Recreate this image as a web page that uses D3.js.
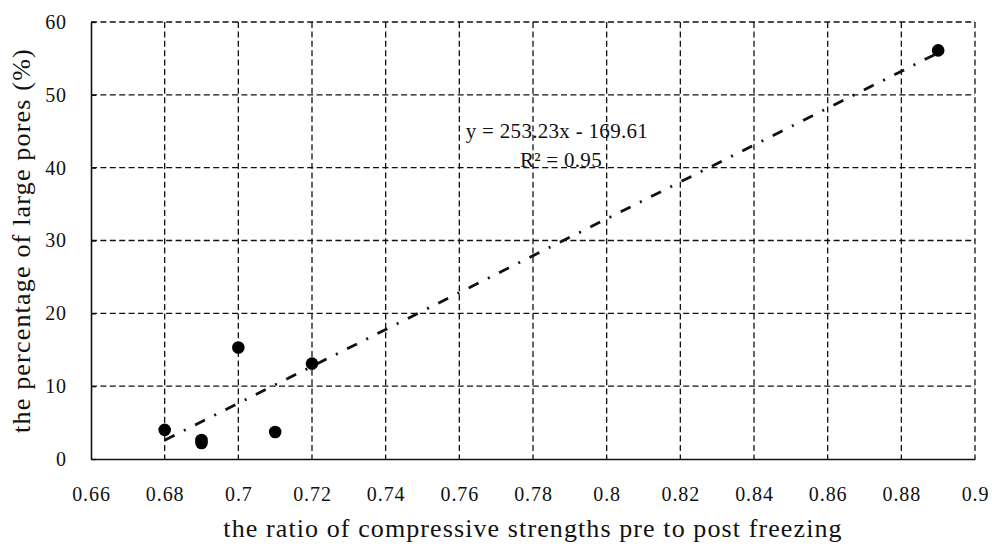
<!DOCTYPE html>
<html>
<head>
<meta charset="utf-8">
<script src="https://cdn.jsdelivr.net/npm/d3@7"></script>
<style>
    body { margin: 0; background: #fff; }
    text { font-family: 'Liberation Serif', 'DejaVu Serif', serif; fill: #111; }
</style>
</head>
<body>
<div class="chart-container"></div>
<script>
// data
const ratioValues = [0.68, 0.69, 0.69, 0.70, 0.71, 0.72, 0.89];
const poreValues = [4.0, 2.6, 2.2, 15.3, 3.7, 13.1, 56.1];
const xTicks = [0.66, 0.68, 0.7, 0.72, 0.74, 0.76, 0.78, 0.8, 0.82, 0.84, 0.86, 0.88, 0.9];
const yTicks = [0, 10, 20, 30, 40, 50, 60];
// trendline as printed in the chart
const trendSlope = 253.23;
const trendIntercept = -169.61;
const trendRange = [0.68, 0.89];

const points = ratioValues.map((x, i) => ({ x: x, y: poreValues[i] }));
const trendPoints = trendRange.map(x => ({ x: x, y: trendSlope * x + trendIntercept }));

const margin = { top: 22, right: 17, bottom: 87, left: 91 };
const width = 992 - margin.left - margin.right;
const height = 546 - margin.top - margin.bottom;

// scales
const xScale = d3.scaleLinear().domain([0.66, 0.9]).range([0, width]);
const yScale = d3.scaleLinear().domain([0, 60]).range([height, 0]);

const svg = d3.select('.chart-container')
    .append('svg')
    .attr('width', 992)
    .attr('height', 546)
    .append('g')
    .attr('transform', `translate(${margin.left}, ${margin.top})`);

// grid
const grid = svg.append('g').attr('class', 'grid')
    .style('stroke', '#111')
    .style('stroke-width', 1.3)
    .style('stroke-dasharray', '6,3.4');

grid.selectAll('.h-grid')
    .data(yTicks.filter(d => d > 0))
    .enter()
        .append('line')
        .attr('x1', 0)
        .attr('x2', width)
        .attr('y1', d => yScale(d))
        .attr('y2', d => yScale(d));

grid.selectAll('.v-grid')
    .data(xTicks.filter(d => d > 0.66))
    .enter()
        .append('line')
        .attr('x1', d => xScale(d))
        .attr('x2', d => xScale(d))
        .attr('y1', 0)
        .attr('y2', height);

// axes
const xAxis = d3.axisBottom(xScale)
    .tickValues(xTicks)
    .tickFormat(d3.format('~g'))
    .tickSizeInner(0)
    .tickSizeOuter(0)
    .tickPadding(28);

const xAxisDraw = svg.append('g')
    .attr('class', 'x axis')
    .attr('transform', `translate(0, ${height})`)
    .call(xAxis);

const yAxis = d3.axisLeft(yScale)
    .tickValues(yTicks)
    .tickSizeInner(-5)
    .tickSizeOuter(0)
    .tickPadding(24);

const yAxisDraw = svg.append('g')
    .attr('class', 'y axis')
    .call(yAxis);

[xAxisDraw, yAxisDraw].forEach(axis => {
    axis.attr('font-family', null);
    axis.select('.domain').style('stroke', '#111').style('stroke-width', 1.6);
    axis.selectAll('.tick line').style('stroke', '#111').style('stroke-width', 1.3);
    axis.selectAll('text')
        .style('font-family', "'Liberation Serif', serif")
        .style('font-size', '20px')
        .style('letter-spacing', '0.9px')
        .style('fill', '#111');
});
xAxisDraw.selectAll('text').attr('dy', '0.71em');

// trendline
const lineGen = d3.line()
    .x(d => xScale(d.x))
    .y(d => yScale(d.y));

svg.append('path')
    .attr('class', 'trendline')
    .attr('d', lineGen(trendPoints))
    .style('fill', 'none')
    .style('stroke', '#111')
    .style('stroke-width', 2.8)
    .style('stroke-dasharray', '11,10.5,2,10.5');

// points
svg.append('g')
    .attr('class', 'points')
    .selectAll('circle')
    .data(points)
    .enter()
        .append('circle')
        .attr('cx', d => xScale(d.x))
        .attr('cy', d => yScale(d.y))
        .attr('r', 6.3)
        .style('fill', '#000');

// equation label
const eqX = xScale(0.7865);
const eq = svg.append('text')
    .attr('class', 'equation')
    .attr('x', eqX)
    .attr('y', 116)
    .attr('text-anchor', 'middle')
    .style('font-size', '21px')
    .style('letter-spacing', '0.3px');

eq.append('tspan').text('y = 253.23x - 169.61');
eq.append('tspan')
    .attr('x', eqX + 4)
    .attr('dy', 28.5)
    .text('R² = 0.95');

// axis titles
svg.append('text')
    .attr('x', width / 2)
    .attr('y', height + 78)
    .attr('text-anchor', 'middle')
    .style('font-size', '26px')
    .style('letter-spacing', '1.1px')
    .text('the ratio of compressive strengths pre to post freezing');

svg.append('text')
    .attr('transform', `translate(${-margin.left + 30}, ${height / 2}) rotate(-90)`)
    .attr('text-anchor', 'middle')
    .style('font-size', '26px')
    .style('letter-spacing', '1.2px')
    .text('the percentage of large pores (%)');
</script>
</body>
</html>
